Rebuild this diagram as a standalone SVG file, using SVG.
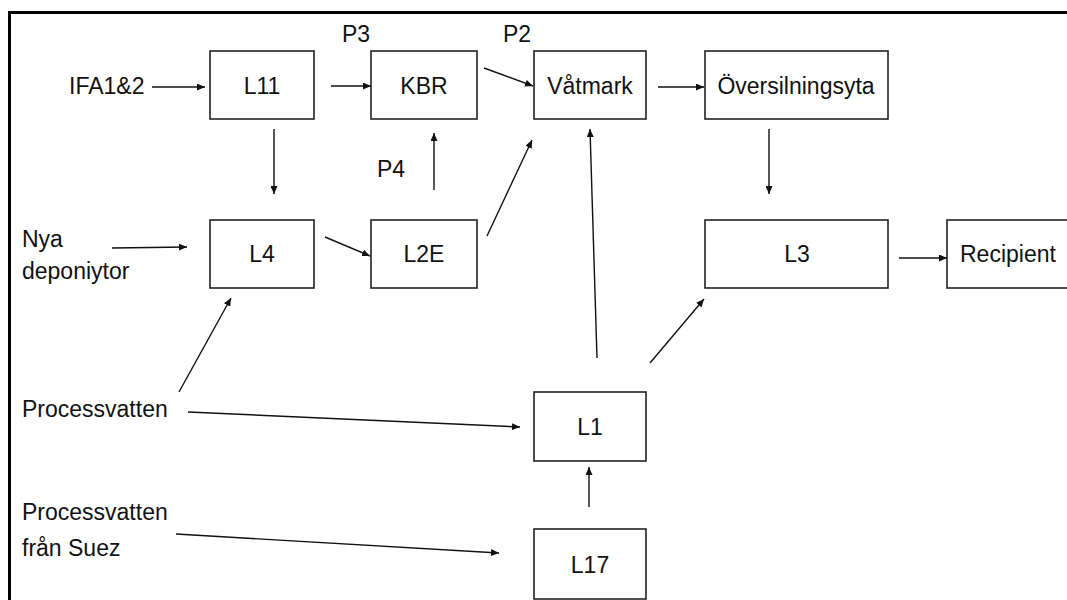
<svg xmlns="http://www.w3.org/2000/svg" width="1067" height="600" viewBox="0 0 1067 600">
  <defs>
    <marker id="arr" markerUnits="userSpaceOnUse" markerWidth="9" markerHeight="7" refX="8" refY="3.5" orient="auto">
      <path d="M0,0 L8,3.5 L0,7 z" fill="#111"/>
    </marker>
    <style>
      .box { fill: #fff; stroke: #222; stroke-width: 1.6; }
      .t { font-family: "Liberation Sans", Arial, sans-serif; font-size: 23px; fill: #111; }
      .m { text-anchor: middle; }
      .c { fill: none; stroke: #111; stroke-width: 1.4; marker-end: url(#arr); }
    </style>
  </defs>
  <rect x="0" y="0" width="1067" height="600" fill="#fff"/>
  <rect x="9.5" y="12.5" width="1100" height="700" fill="none" stroke="#000" stroke-width="3"/>

  <g id="n-L11"><rect class="box" x="210" y="51" width="104" height="68"/><text class="t m" x="262" y="94">L11</text></g>
  <g id="n-KBR"><rect class="box" x="371" y="51" width="106" height="68"/><text class="t m" x="424" y="94">KBR</text></g>
  <g id="n-Vatmark"><rect class="box" x="534" y="51" width="112" height="68"/><text class="t m" x="590" y="94">Våtmark</text></g>
  <g id="n-Oversilningsyta"><rect class="box" x="705" y="51" width="183" height="68"/><text class="t m" x="796" y="94">Översilningsyta</text></g>
  <g id="n-L4"><rect class="box" x="210" y="220" width="104" height="68"/><text class="t m" x="262" y="262">L4</text></g>
  <g id="n-L2E"><rect class="box" x="371" y="220" width="106" height="68"/><text class="t m" x="424" y="262">L2E</text></g>
  <g id="n-L3"><rect class="box" x="705" y="220" width="183" height="68"/><text class="t m" x="797" y="262">L3</text></g>
  <g id="n-Recipient"><rect class="box" x="947" y="220" width="150" height="68"/><text class="t" x="960" y="262">Recipient</text></g>
  <g id="n-L1"><rect class="box" x="534" y="392" width="112" height="69"/><text class="t m" x="590" y="435">L1</text></g>
  <g id="n-L17"><rect class="box" x="534" y="529" width="112" height="70"/><text class="t m" x="590" y="573">L17</text></g>

  <g id="n-IFA"><text class="t" x="69" y="94">IFA1&amp;2</text></g>
  <g id="n-Nya"><text class="t" x="22" y="247">Nya</text><text class="t" x="22" y="279">deponiytor</text></g>
  <g id="n-Process1"><text class="t" x="22" y="417">Processvatten</text></g>
  <g id="n-Process2"><text class="t" x="22" y="520">Processvatten</text><text class="t" x="22" y="556">från Suez</text></g>

  <g id="labels">
    <text class="t m" x="356" y="42">P3</text>
    <text class="t m" x="517" y="42">P2</text>
    <text class="t m" x="391" y="177">P4</text>
  </g>

  <g id="connectors">
    <line class="c" x1="152" y1="87" x2="205" y2="87"/>
    <line class="c" x1="331" y1="86" x2="371" y2="86"/>
    <line class="c" x1="484" y1="68" x2="533" y2="86"/>
    <line class="c" x1="658" y1="87" x2="704" y2="87"/>
    <line class="c" x1="769" y1="129" x2="769" y2="194"/>
    <line class="c" x1="899" y1="258" x2="947" y2="258"/>
    <line class="c" x1="274" y1="129" x2="274" y2="194"/>
    <line class="c" x1="434" y1="190" x2="434" y2="133"/>
    <line class="c" x1="325" y1="237" x2="370" y2="256"/>
    <line class="c" x1="487" y1="236" x2="532" y2="140"/>
    <line class="c" x1="112" y1="248" x2="187" y2="247"/>
    <line class="c" x1="179" y1="392" x2="231" y2="298"/>
    <line class="c" x1="188" y1="412" x2="520" y2="427"/>
    <line class="c" x1="176" y1="534" x2="499" y2="553"/>
    <line class="c" x1="589" y1="507" x2="589" y2="467"/>
    <line class="c" x1="597" y1="358" x2="590" y2="129"/>
    <line class="c" x1="650" y1="363" x2="704" y2="299"/>
  </g>
</svg>
